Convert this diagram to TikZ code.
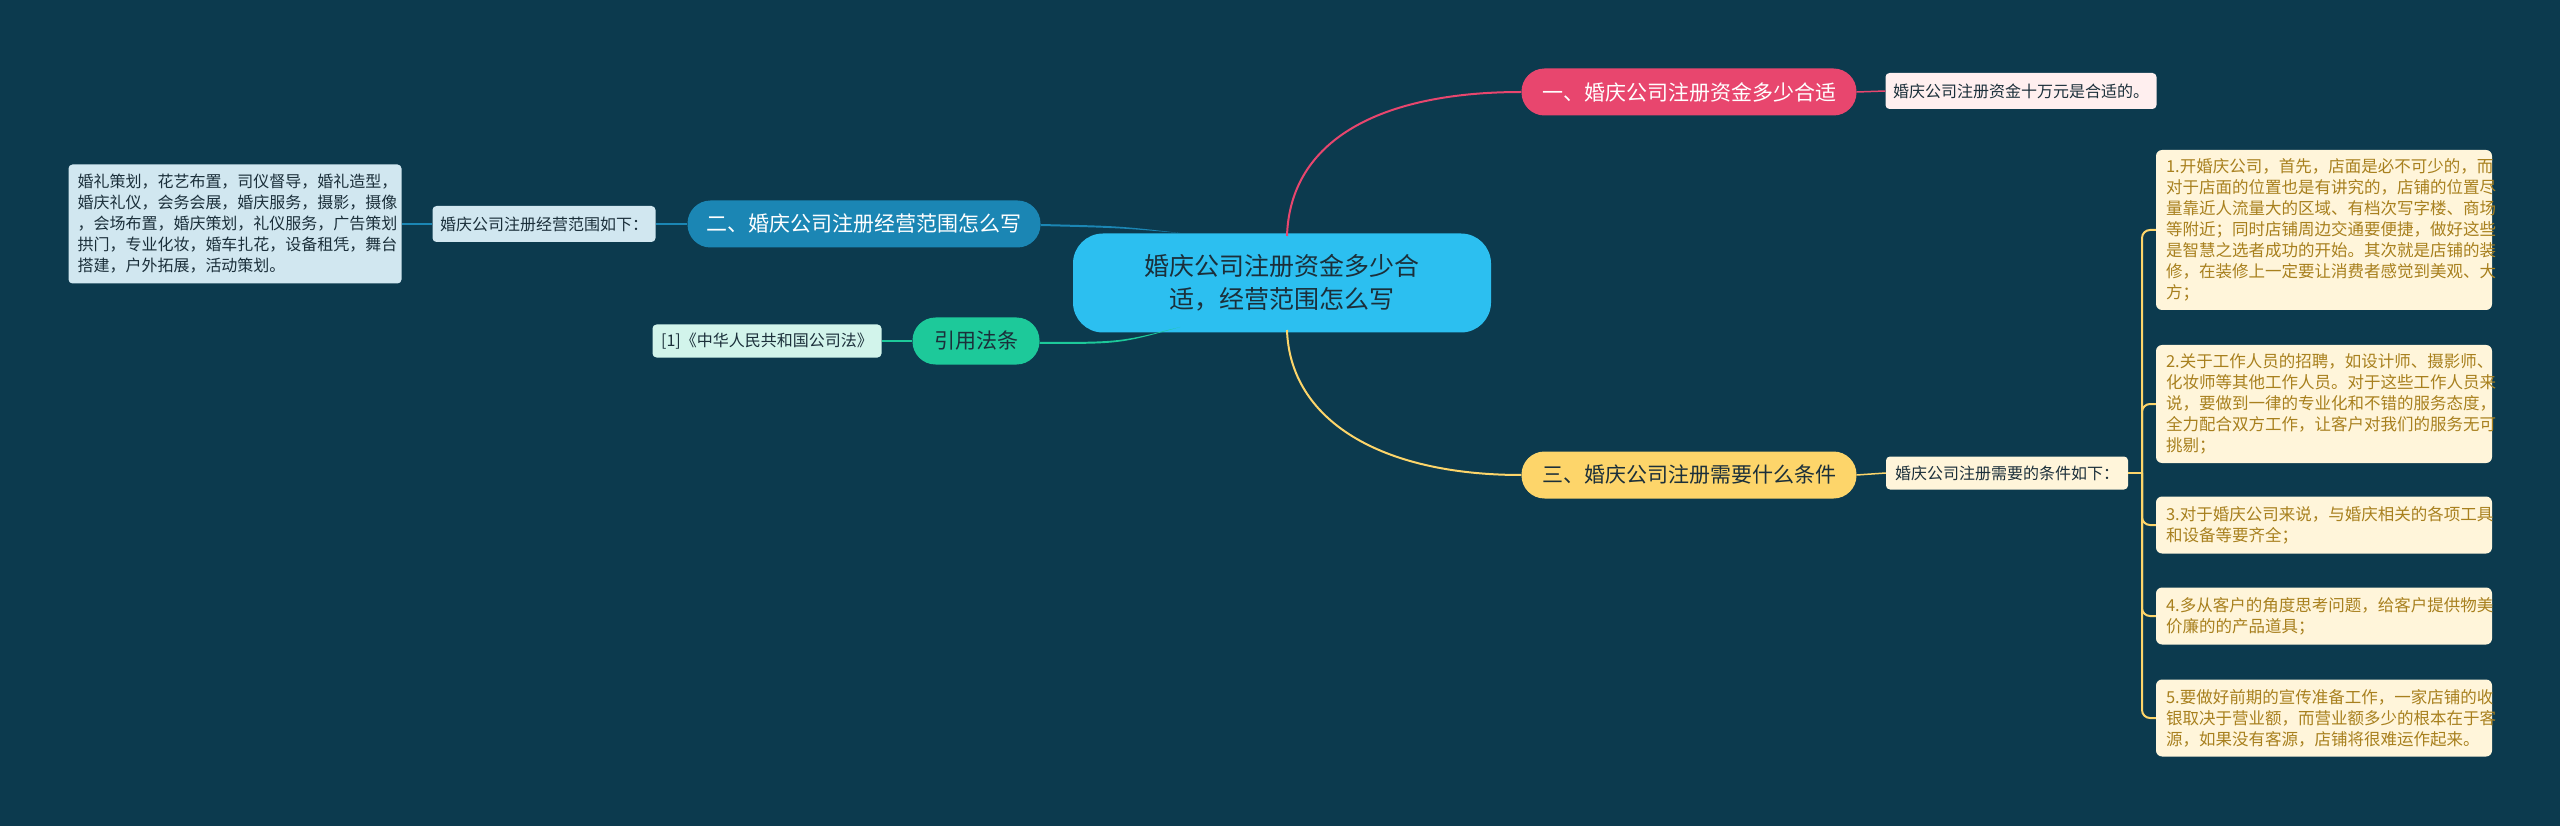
\documentclass[tikz,border=0pt]{standalone}
\usepackage{fontspec}
\setmainfont{Noto Sans CJK SC}
\begin{document}
\begin{tikzpicture}[x=1pt,y=-1pt,
  base/.style={rounded corners=5pt,inner sep=0pt,align=left},
  br/.style={base,rounded corners=23pt,minimum height=47pt,font=\fontsize{21}{26}\selectfont},
  lf/.style={base,rounded corners=4pt,font=\fontsize{16}{21}\selectfont},
  it/.style={base,rounded corners=6pt,fill=itemfill,text=itemtext,minimum width=336pt,text width=316pt,inner xsep=10pt,font=\fontsize{16.5}{21}\selectfont}]
\definecolor{bg}{HTML}{0C3A4E}
\definecolor{cpink}{HTML}{E8466E}
\definecolor{cyel}{HTML}{FDD56A}
\definecolor{cblue}{HTML}{1B86B4}
\definecolor{cgreen}{HTML}{1DC99A}
\definecolor{ccen}{HTML}{2CBFF0}
\definecolor{itemfill}{HTML}{FFF5DA}
\definecolor{itemtext}{HTML}{A8801E}
\definecolor{dk}{HTML}{1B2F3A}
\fill[bg] (0,0) rectangle (2560,826);
\useasboundingbox (0,0) rectangle (2560,826);

\node[base,rounded corners=30pt,fill=ccen,text=dk,minimum width=418pt,minimum height=99pt,align=center,font=\fontsize{25}{33}\selectfont] (c) at (1282,283) {婚庆公司注册资金多少合\\适，经营范围怎么写};

\node[br,fill=cpink,text=white,minimum width=335pt] (b1) at (1689,92) {一、婚庆公司注册资金多少合适};
\node[lf,fill=pink!25,text=dk,minimum width=271pt,minimum height=36pt] (l1) at (2021,91) {婚庆公司注册资金十万元是合适的。};

\node[br,fill=cblue,text=white,minimum width=353pt] (b2) at (864,224) {二、婚庆公司注册经营范围怎么写};
\node[lf,fill=cblue!20,text=dk,minimum width=223pt,minimum height=36pt] (l2) at (544,224) {婚庆公司注册经营范围如下：};
\node[lf,fill=cblue!20,text=dk,minimum width=333pt,minimum height=119pt,text width=315pt] (l2a) at (235,224) {婚礼策划，花艺布置，司仪督导，婚礼造型，\\婚庆礼仪，会务会展，婚庆服务，摄影，摄像\\，会场布置，婚庆策划，礼仪服务，广告策划\\拱门，专业化妆，婚车扎花，设备租凭，舞台\\搭建，户外拓展，活动策划。};

\node[br,fill=cgreen,text=dk,minimum width=127pt] (b4) at (976,341) {引用法条};
\node[lf,fill=cgreen!20,text=dk,minimum width=229pt,minimum height=33pt] (l4) at (767,341) {[1]《中华人民共和国公司法》};

\node[br,fill=cyel,text=dk,minimum width=335pt] (b3) at (1689,475) {三、婚庆公司注册需要什么条件};
\node[lf,fill=itemfill,text=dk,minimum width=242pt,minimum height=33pt] (l3) at (2007,473) {婚庆公司注册需要的条件如下：};

\node[it,minimum height=160pt] (i1) at (2324,230) {1.开婚庆公司，首先，店面是必不可少的，而\\对于店面的位置也是有讲究的，店铺的位置尽\\量靠近人流量大的区域、有档次写字楼、商场\\等附近；同时店铺周边交通要便捷，做好这些\\是智慧之选者成功的开始。其次就是店铺的装\\修，在装修上一定要让消费者感觉到美观、大\\方；};
\node[it,minimum height=118pt] (i2) at (2324,404) {2.关于工作人员的招聘，如设计师、摄影师、\\化妆师等其他工作人员。对于这些工作人员来\\说，要做到一律的专业化和不错的服务态度，\\全力配合双方工作，让客户对我们的服务无可\\挑剔；};
\node[it,minimum height=57pt] (i3) at (2324,525) {3.对于婚庆公司来说，与婚庆相关的各项工具\\和设备等要齐全；};
\node[it,minimum height=57pt] (i4) at (2324,616) {4.多从客户的角度思考问题，给客户提供物美\\价廉的的产品道具；};
\node[it,minimum height=77pt] (i5) at (2324,718) {5.要做好前期的宣传准备工作，一家店铺的收\\银取决于营业额，而营业额多少的根本在于客\\源，如果没有客源，店铺将很难运作起来。};

% connectors
\coordinate (c1) at (1287,236);
\coordinate (c3) at (1287,330);
\coordinate (c2) at (1180,236);
\coordinate (c4) at (1180,330);
\draw[cpink,line width=2pt] (c1) .. controls (1290,140) and (1380,92) .. (b1.west);
\draw[cyel,line width=2pt] (c3) .. controls (1290,420) and (1380,475) .. (b3.west);
\fill[cblue] (c2) ++(0,-3) .. controls (1120,226) .. (b2.east) -- ++(0,2) .. controls (1120,228) .. ([yshift=3]c2) -- cycle;
\fill[cgreen] (c4) ++(0,-3) .. controls (1120,342) .. ([yshift=-1]b4.east) -- ++(0,2) .. controls (1120,344) .. ([yshift=3]c4) -- cycle;
\draw[cpink,line width=1.5pt] (b1.east) -- (l1.west);
\draw[cblue,line width=1.5pt] (b2.west) -- (l2.east);
\draw[cblue,line width=1.5pt] (l2.west) -- (l2a.east);
\draw[cgreen,line width=1.5pt] (b4.west) -- (l4.east);
\draw[cyel,line width=1.5pt] (b3.east) -- (l3.west);
\coordinate (k) at (2142,473);
\draw[cyel,line width=2pt] (l3.east) -- (k);
\foreach \i in {i1,i2,i3,i4,i5}
  \draw[cyel,line width=2pt,rounded corners=8pt] (k) |- (\i.west);
\end{tikzpicture}
\end{document}
